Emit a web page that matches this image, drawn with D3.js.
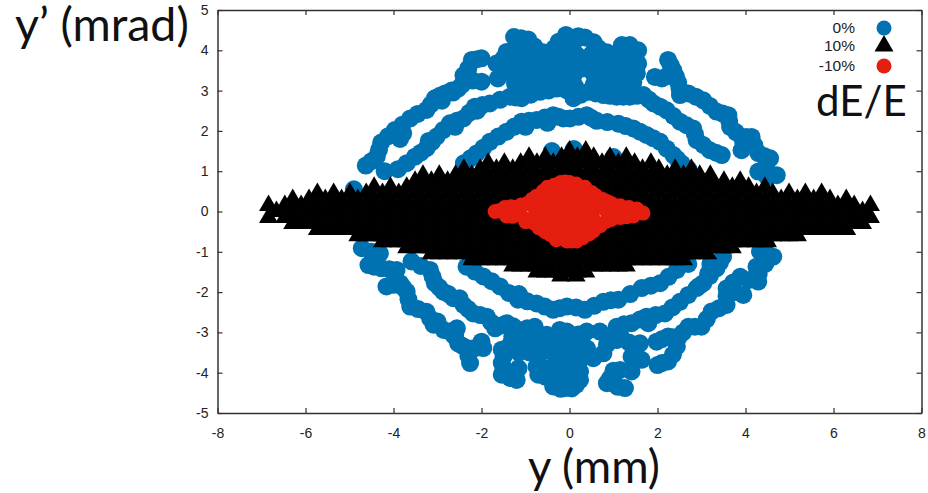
<!DOCTYPE html>
<html>
<head>
<meta charset="utf-8">
<script src="https://cdn.jsdelivr.net/npm/d3@7"></script>
<style>
  body { margin: 0; background: #fff; }
  .tick text { font-family: "Liberation Sans", sans-serif; font-size: 14px; fill: #222; }
  .bigText { font-family: Lato, sans-serif; fill: #111; }
  .legendText { font-family: "Liberation Sans", sans-serif; font-size: 15.5px; fill: #222; text-anchor: end; }
</style>
</head>
<body>
<div id="chart"></div>
<script>
/***********************************************************************/
//tick labels
const xTicks = [-8, -6, -4, -2, 0, 2, 4, 6, 8];
const yTicks = [-5, -4, -3, -2, -1, 0, 1, 2, 3, 4, 5];

//legend
const legendLabels = ["0%", "10%", "-10%"];

//dE/E = 0% : [y, y']
const blueOuter = [
  [-4.63,1.14],[-4.38,1.36],[-4.28,1.71],[-3.97,2.02],[-3.78,1.94],[-3.85,1.8],[-3.62,2.31],[-3.25,2.52],
  [-3.06,2.81],[-2.83,2.93],[-2.53,3.05],[-2.34,3.26],[-2.41,3.38],[-2.22,3.76],[-2,3.8],[-2,3.22],
  [-4.2,1],[-3.9,1.05],[-4.9,.55],
  [-4.5,1.25],[-4.33,1.53],[-4.12,1.87],[-3.8,2.15],[-3.45,2.42],[-3.15,2.66],[-2.95,2.87],[-2.68,3],[-2.44,3.15],
  [-2.3,3.55],[-2.1,3.78],[-2.2,3.25],[-2.65,2.95],[-2.9,2.75],
  [4.71,.9],[4.29,.99],[4.56,1.32],[4.29,1.45],[4.14,1.85],[3.91,1.85],[3.91,1.52],[3.65,2.1],[3.61,2.39],
  [3.34,2.48],[3.04,2.76],[2.7,2.93],[2.51,2.89],[2.47,3.2],[2.36,3.5],[2.24,3.76],[1.94,3.34],
  [4.42,1.38],[4.2,1.65],[4.02,1.85],[3.95,1.7],[3.78,1.97],[3.63,2.25],[3.48,2.43],[3.19,2.62],[2.87,2.85],[2.6,2.93],
  [2.42,3.35],[2.3,3.63],[2.2,3.35],[2.1,3.3],[2.5,3.05],[4.5,1],[4.5,.85],
  [-4.72,-.91],[-4.31,-1.04],[-4.57,-1.33],[-4.27,-1.41],[-3.93,-1.45],[-4.16,-1.86],[-3.85,-1.78],[-3.7,-1.99],
  [-3.62,-2.36],[-3.25,-2.49],[-3.09,-2.81],[-3,-2.73],[-2.72,-2.98],[-2.56,-2.9],[-2.53,-3.27],[-2.34,-3.39],
  [-1.96,-3.39],[-2.26,-3.76],[-2,-3.23],
  [-4.5,-1],[-4.44,-1.37],[-4.1,-1.43],[-4,-1.82],[-3.78,-1.88],[-3.66,-2.18],[-3.44,-2.42],[-3.17,-2.65],[-2.86,-2.94],
  [-2.63,-3.08],[-2.44,-3.33],[-2.15,-3.39],[-2.3,-3.58],[-2.6,-3.05],
  [4.63,-1.12],[4.33,-.99],[4.25,-1.37],[4.29,-1.74],[3.88,-1.62],[3.57,-1.91],[3.95,-2.07],[3.57,-2.32],
  [3.23,-2.48],[3,-2.86],[2.7,-2.86],[2.47,-3.14],[2.24,-3.1],[1.98,-3.23],[2.44,-3.35],[2.24,-3.72],[2,-3.81],
  [4.48,-1.05],[4.3,-1.55],[4.08,-1.7],[3.72,-1.76],[3.76,-2],[3.57,-2.1],[3.4,-2.4],[3.12,-2.67],[2.85,-2.86],
  [2.58,-3],[2.35,-3.12],[2.1,-3.17],[2.35,-3.55],[2.1,-3.76],[4.45,-1.3]
];
const blueMiddle = [
  [-3.7,1.2],[-3.51,1.36],[-3.25,1.57],[-3.02,1.86],[-2.72,2.19],[-2.41,2.31],[-2.15,2.6],[-1.81,2.68],
  [-1.35,2.85],[-1.09,2.81],[-.67,2.97],[-.29,3.05],
  [-3.38,1.46],[-3.13,1.72],[-2.87,2.02],[-2.56,2.25],[-2.28,2.45],[-1.98,2.64],[-1.58,2.77],[-1.22,2.83],[-.88,2.9],
  [-.48,3],[-3.2,1.75],[-2.6,2.1],[-2.1,2.5],
  [3.46,1.4],[3.19,1.52],[2.89,1.77],[2.81,2.06],[2.51,2.23],[2.21,2.51],[1.91,2.68],[1.68,2.89],[1.37,2.85],
  [1.07,2.85],[.77,2.89],[.43,2.97],[.09,2.81],
  [3.33,1.46],[3.04,1.65],[2.85,1.92],[2.66,2.14],[2.36,2.37],[2.06,2.6],[1.8,2.78],[1.53,2.87],[1.22,2.85],[.92,2.87],
  [.6,2.93],[.26,2.9],
  [-3.59,-1.24],[-3.17,-1.45],[-3.06,-1.78],[-2.87,-1.99],[-2.41,-2.32],[-2.19,-2.53],[-1.88,-2.61],[-1.69,-2.9],
  [-1.43,-2.77],[-1.13,-2.94],[-.79,-2.86],
  [-3.38,-1.35],[-3.11,-1.62],[-2.96,-1.88],[-2.64,-2.15],[-2.3,-2.42],[-2.03,-2.57],[-1.78,-2.75],[-1.56,-2.83],
  [-1.28,-2.85],[-.96,-2.9],[-2.75,-2.05],[-2.5,-2.15],
  [3.49,-1.12],[3.34,-1.41],[3.04,-1.78],[2.89,-1.9],[2.51,-2.24],[2.17,-2.53],[1.75,-2.61],[1.79,-2.77],
  [1.41,-2.77],[1.07,-2.86],
  [3.42,-1.26],[3.19,-1.6],[2.96,-1.84],[2.7,-2.07],[2.34,-2.38],[1.96,-2.57],[1.6,-2.68],[1.24,-2.8],[3.2,-1.3],[3.15,-1.55]
];
const blueInner = [
  [-2.4,1.2],[-2.11,1.44],[-1.81,1.73],[-1.43,1.98],[-1.09,2.23],[-.75,2.27],[-.37,2.39],[-.14,2.31],
  [-2.25,1.32],[-1.96,1.58],[-1.62,1.86],[-1.26,2.1],[-.92,2.25],[-.56,2.33],[-.25,2.35],[-1,2.1],[-.5,2.2],
  [-.4,1.5],[.1,1.55],[1,1.35],
  [2.55,1.19],[2.36,1.4],[2.06,1.73],[1.75,1.9],[1.45,2.06],[1.11,2.18],[.62,2.25],[.39,2.39],[.01,2.31],
  [2.45,1.3],[2.21,1.56],[1.9,1.82],[1.6,1.98],[1.28,2.12],[.86,2.22],[.5,2.32],[.2,2.35],[2.7,1.05],
  [-2.34,-1.37],[-1.96,-1.61],[-1.58,-1.86],[-1.17,-2.19],[-.75,-2.28],[-.37,-2.44],[-.06,-2.36],
  [-2.15,-1.49],[-1.77,-1.73],[-1.38,-2.02],[-.96,-2.23],[-.56,-2.36],[-.22,-2.4],[-1.15,-2.05],
  [2.44,-1.45],[2.06,-1.78],[1.64,-1.9],[1.11,-2.19],[.77,-2.24],[.35,-2.44],
  [2.25,-1.62],[1.85,-1.84],[1.38,-2.05],[.94,-2.2],[.56,-2.34],[.15,-2.38],[2.7,-1.3],[2.6,-1.25]
];
const blueTop = [
  [-1.66,3.67],[-1.63,3.3],[-1.35,3.55],[-1.13,3.38],[-1.26,4.33],[-.94,4.27],[-1.43,3.96],[-1.13,3.96],
  [-.82,3.84],[-.52,3.76],[-.75,3.51],[-.25,4.21],[-.08,4.38],[-.37,3.26],[-.14,3.76],[-1.24,3.18],[-.67,3.1],
  [-.94,3.18],[-.22,3.59],
  [-1.5,3.8],[-1.5,3.45],[-1.3,3.75],[-1,3.7],[-.9,3.5],[-1.1,4.3],[-1.05,4.1],[-.8,4.1],[-.6,3.95],[-.35,4],[-.5,3.5],
  [-.25,3.35],[-.85,3.3],[-.5,3.2],[-.2,3.15],[-.1,3.95],[-.35,4.05],[-.1,4.15],[-.05,3.25],[-.4,3.05],
  [.35,4.32],[.13,4.25],[.66,4.05],[1.19,4.13],[1.37,4.13],[1.56,4],[1.15,3.88],[1.56,3.67],[1.53,3.43],
  [.77,3.76],[.47,3.67],[-.07,4],[.01,3.63],[.92,3.47],[1.22,3.63],[.54,3.43],[.13,3.1],[.09,3.38],[1.26,3.18],
  [-.07,3.01],[.69,3.14],[.99,3.01],
  [.2,4.35],[.15,3.9],[.3,3.8],[.55,4.2],[.5,3.9],[.85,3.95],[.75,3.55],[.3,3.55],[.55,3.15],[.85,3.25],[1.05,3.2],
  [1.1,3.6],[1.35,3.85],[1.4,3.55],[1.3,3.35],[1.45,3.2],[1.15,4],[.95,3.75],[.95,3.05]
];
const blueBottom = [
  [-1.54,-3.43],[-1.54,-3.76],[-1.54,-4.05],[-1.2,-4.18],[-1.16,-3.89],[-.71,-4.05],[-.59,-3.89],[-.37,-4.34],
  [-.1,-4.38],[-1.12,-3.31],[-.82,-3.31],[-.59,-3.47],[-.52,-3.06],[-.22,-2.94],[-.37,-3.47],[-.1,-3.81],
  [-.14,-4.14],[-.14,-3.39],
  [-1.5,-3.6],[-1.5,-3.9],[-1.35,-4.13],[-1.35,-3.3],[-1.15,-3.5],[-.9,-3.5],[-.75,-3.2],[-.85,-3.1],[-.35,-3.15],
  [-.1,-3.15],[-.3,-3.7],[-.75,-3.85],[-.55,-4.1],[-.2,-4.4],[-.35,-3.95],[-1.3,-3.1],[-.95,-3.05],[-.15,-4.25],
  [-.06,-2.98],[.39,-2.98],[.69,-2.98],[1.07,-3.19],[1.6,-3.27],[1.41,-3.6],[1.64,-3.68],[.77,-3.52],[.54,-3.64],
  [1.15,-3.93],[1.41,-3.97],[.85,-4.26],[1.26,-4.38],[.92,-4.14],[.24,-3.97],[.24,-4.18],[.05,-4.39],[-.14,-4.05],
  [.09,-3.47],[-.06,-3.31],
  [.2,-3.05],[.2,-3.3],[.25,-3.55],[.1,-3.7],[.4,-3.4],[.85,-3.1],[.85,-3.3],[1.35,-3.25],[1.5,-3.65],[1,-3.95],
  [1.05,-4.3],[1.15,-3.05],[.2,-3.8],[.15,-4.3],[1.1,-4.35]
];

//dE/E = 10% : rows of y' with the y values of that row
const blackY = [1.5, 1.35, 1.2, 1.05, .9, .75, .6, .45, .3, .15, 0, -.15, -.3, -.45, -.6, -.75, -.9, -1.05, -1.2, -1.35, -1.5, -1.6];
const blackX = [
  [0,.37],
  [-.92,-.55,-.18,.18,.55,.92,1.29],
  [-1.85,-1.48,-1.11,-.74,-.37,0,.37,.74,1.11,1.48,1.85],
  [-2.4,-2.03,-1.66,-1.29,-.92,-.55,-.18,.18,.55,.92,1.29,1.66,2.03,2.4,2.77],
  [-3.33,-2.96,-2.59,-2.22,-1.85,-1.48,-1.11,-.74,-.37,0,.37,.74,1.11,1.48,1.85,2.22,2.59,2.96,3.2],
  [-3.51,-3.14,-2.77,-2.4,-2.03,-1.66,-1.29,-.92,-.55,-.18,.18,.55,.92,1.29,1.66,2.03,2.4,2.77,3.14,3.51,3.88],
  [-4.44,-4.07,-3.7,-3.33,-2.96,-2.59,-2.22,-1.85,-1.48,-1.11,-.74,.74,1.11,1.48,1.85,2.22,2.59,2.96,3.33,3.7,4.07,4.44],
  [-5.73,-5.36,-4.99,-4.62,-4.25,-3.88,-3.51,-3.14,-2.77,-2.4,-2.03,-1.66,-1.29,-.92,.92,1.29,1.66,2.03,2.4,2.77,3.14,3.51,3.88,4.25,4.62,4.99,5.36,5.73],
  [-6.29,-5.92,-5.55,-5.18,-4.81,-4.44,-4.07,-3.7,-3.33,-2.96,-2.59,-2.22,-1.85,-1.48,-1.11,1.11,1.48,1.85,2.22,2.59,2.96,3.33,3.7,4.07,4.44,4.81,5.18,5.55,5.92,6.29],
  [-6.84,-6.47,-6.1,-5.73,-5.36,-4.99,-4.62,-4.25,-3.88,-3.51,-3.14,-2.77,-2.4,-2.03,-1.66,-1.29,1.29,1.66,2.03,2.4,2.77,3.14,3.51,3.88,4.25,4.62,4.99,5.36,5.73,6.1,6.47,6.84],
  [-6.66,-6.29,-5.92,-5.55,-5.18,-4.81,-4.44,-4.07,-3.7,-3.33,-2.96,-2.59,-2.22,-1.85,1.85,2.22,2.59,2.96,3.33,3.7,4.07,4.44,4.81,5.18,5.55,5.92,6.29,6.66],
  [-6.84,-6.47,-6.1,-5.73,-5.36,-4.99,-4.62,-4.25,-3.88,-3.51,-3.14,-2.77,-2.4,-2.03,-1.66,-1.29,1.29,1.66,2.03,2.4,2.77,3.14,3.51,3.88,4.25,4.62,4.99,5.36,5.73,6.1,6.47,6.84],
  [-6.29,-5.92,-5.55,-5.18,-4.81,-4.44,-4.07,-3.7,-3.33,-2.96,-2.59,-2.22,-1.85,-1.48,-1.11,1.11,1.48,1.85,2.22,2.59,2.96,3.33,3.7,4.07,4.44,4.81,5.18,5.55,5.92,6.29,6.66],
  [-5.73,-5.36,-4.99,-4.62,-4.25,-3.88,-3.51,-3.14,-2.77,-2.4,-2.03,-1.66,-1.29,-.92,.92,1.29,1.66,2.03,2.4,2.77,3.14,3.51,3.88,4.25,4.62,4.99,5.36,5.73,6.1,6.3],
  [-4.81,-4.44,-4.07,-3.7,-3.33,-2.96,-2.59,-2.22,-1.85,-1.48,-1.11,-.74,.74,1.11,1.48,1.85,2.22,2.59,2.96,3.33,3.7,4.07,4.44,4.81,5.18],
  [-4.25,-3.88,-3.51,-3.14,-2.77,-2.4,-2.03,-1.66,-1.29,-.92,-.55,-.18,.18,.55,.92,1.29,1.66,2.03,2.4,2.77,3.14,3.51,3.88,4.25,4.5],
  [-3.7,-3.33,-2.96,-2.59,-2.22,-1.85,-1.48,-1.11,-.74,-.37,0,.37,.74,1.11,1.48,1.85,2.22,2.59,2.96,3.33,3.7],
  [-3.14,-2.77,-2.4,-2.03,-1.66,-1.29,-.92,-.55,-.18,.18,.55,.92,1.29,1.66,2.03,2.4,2.77,3.14],
  [-2.22,-1.85,-1.48,-1.11,-.74,-.37,0,.37,.74,1.11,1.48,1.85,2.22,2.59],
  [-1.29,-.92,-.55,-.18,.18,.55,.92,1.29],
  [-.74,-.37,0,.37],
  [-.2,.15]
];
//triangles along the lower edge of the black area
const blackEdge = [
  [-6.1,-.3],[-5.73,-.3],[6.47,-.3],
  [-5.55,-.45],[-5.18,-.45],[-4.81,-.45],[5.18,-.45],[5.55,-.45],[5.92,-.45],
  [-4.62,-.6],[-4.25,-.6],[4.62,-.6],[4.99,-.6],
  [-4.07,-.75],[-3.7,-.75],[3.7,-.75],[4.07,-.75],[4.44,-.75],
  [-3.51,-.9],[-3.14,-.9],[3.14,-.9],[3.51,-.9],
  [-2.96,-1.05],[-2.59,-1.05],[-2.22,-1.05],[2.59,-1.05],[2.96,-1.05],
  [-2.03,-1.2],[-1.66,-1.2],[-1.29,-1.2],[1.29,-1.2],[1.66,-1.2],[2.03,-1.2],[2.4,-1.2],
  [-1.11,-1.35],[-.74,-1.35],[.74,-1.35],[1.11,-1.35],
  [-.55,-1.5],[-.18,-1.5],[.18,-1.5]
];

//dE/E = -10%
const redPoints = [
  [-.2,.72],[0,.72],[.15,.68],[-.1,.73],
  [-.6,.5],[-.35,.5],[-.1,.5],[.15,.5],[.4,.5],[.6,.39],[-.5,.6],[-.35,.65],[.35,.6],[.5,.47],
  [-.9,.22],[-.65,.25],[-.4,.25],[-.15,.25],[.1,.25],[.35,.25],[.6,.25],[.85,.25],[1.15,.14],[-.85,.3],[-.75,.38],[.75,.3],[.95,.2],
  [-.3,.38],[0,.38],[.3,.38],[-.5,.15],[.5,.15],[-.8,.1],
  [-1.69,0],[-1.47,.1],[-1.2,.1],[-.97,.19],[-.7,.05],[-.45,.05],[-.2,.05],[.05,.05],[.3,.05],[.55,.05],[.8,.05],
  [1.05,.05],[1.3,.05],[1.53,.06],[1.67,-.04],[-1.33,.12],[-1.1,.16],[1.35,.1],[-1.6,.02],
  [-1.43,-.11],[-1.1,-.1],[-.95,-.2],[-.7,-.2],[-.45,-.2],[-.2,-.2],[.05,-.2],[.3,-.2],[.55,-.2],[.84,-.24],[1.45,-.11],
  [-1.3,-.12],[-1,-.25],[-.6,-.1],[.95,-.2],[1,-.08],[1.15,-.15],[1.3,-.13],[.7,-.35],
  [-.82,-.28],[-.7,-.4],[-.55,-.5],[-.6,-.45],[-.35,-.45],[-.1,-.45],[.15,-.45],[.4,-.45],[.54,-.48],[-.3,-.3],[0,-.33],[.3,-.33],
  [-.44,-.57],[-.3,-.7],[-.2,-.65],[-.06,-.73],[.05,-.73],[.16,-.73],[.3,-.65],[.45,-.55]
];
/***********************************************************************/
//static svg/chart variables
var svgWidth = 928;
var svgHeight = 493;

var margin = { top: 10, right: 6.5, bottom: 80, left: 217.5 };
var chartWidth = svgWidth - margin.left - margin.right;
var chartHeight = svgHeight - margin.top - margin.bottom;

const blue = "#0072b2";
const red = "#e51e10";
const frame = "#333";

var svg = d3.select("#chart").append("svg")
  .attr("width", svgWidth)
  .attr("height", svgHeight);

var chartGroup = svg.append("g")
  .attr("transform", `translate(${margin.left}, ${margin.top})`);

var xScale = d3.scaleLinear().domain([-8, 8]).range([0, chartWidth]);
var yScale = d3.scaleLinear().domain([-5, 5]).range([chartHeight, 0]);

/***********************************************************************/
//markers
var triangle = d3.symbol().type(d3.symbolTriangle).size(156);
var blackPoints = blackY.flatMap((y, i) => blackX[i].map(x => [x, y])).concat(blackEdge);
var bluePoints = blueOuter.concat(blueMiddle, blueInner, blueTop, blueBottom);

chartGroup.append("g").selectAll("circle")
  .data(bluePoints)
  .enter()
  .append("circle")
  .attr("cx", d => xScale(d[0]))
  .attr("cy", d => yScale(d[1]))
  .attr("r", 9)
  .attr("fill", blue);

chartGroup.append("g").selectAll("path")
  .data(blackPoints)
  .enter()
  .append("path")
  .attr("d", triangle)
  .attr("transform", d => `translate(${xScale(d[0])}, ${yScale(d[1])})`)
  .attr("fill", "#000");

chartGroup.append("g").selectAll("circle")
  .data(redPoints)
  .enter()
  .append("circle")
  .attr("cx", d => xScale(d[0]))
  .attr("cy", d => yScale(d[1]))
  .attr("r", 7.5)
  .attr("fill", red);

/***********************************************************************/
//axes, gnuplot style: ticks point inwards on all four sides
var plainLabel = d => String(d);
var axes = [
  d3.axisBottom(xScale).tickValues(xTicks).tickSizeInner(-5).tickSizeOuter(0).tickPadding(15).tickFormat(plainLabel),
  d3.axisLeft(yScale).tickValues(yTicks).tickSizeInner(-5).tickSizeOuter(0).tickPadding(9).tickFormat(plainLabel),
  d3.axisTop(xScale).tickValues(xTicks).tickSizeInner(-5).tickSizeOuter(0).tickFormat(""),
  d3.axisRight(yScale).tickValues(yTicks).tickSizeInner(-5).tickSizeOuter(0).tickFormat("")
];
var axisMoves = [`translate(0, ${chartHeight})`, "translate(0, 0)", "translate(0, 0)", `translate(${chartWidth}, 0)`];

axes.forEach((axis, i) => {
  var g = chartGroup.append("g").attr("transform", axisMoves[i]).call(axis);
  g.selectAll(".domain").attr("stroke", frame).attr("stroke-width", 1.5);
  g.selectAll("line").attr("stroke", frame).attr("stroke-width", 1.2);
});

/***********************************************************************/
//legend
var legendY = [28, 46, 66];
legendLabels.forEach((label, i) => {
  svg.append("text")
    .attr("class", "legendText")
    .attr("x", 855)
    .attr("y", legendY[i] + 5)
    .text(label);
});
svg.append("circle").attr("cx", 884).attr("cy", legendY[0]).attr("r", 7.5).attr("fill", blue);
svg.append("path").attr("d", triangle).attr("transform", `translate(884, ${legendY[1]})`).attr("fill", "#000");
svg.append("circle").attr("cx", 884).attr("cy", legendY[2]).attr("r", 7.5).attr("fill", red);

//big labels
svg.append("text").attr("class", "bigText").attr("font-size", 46.5).attr("x", 15).attr("y", 41).text("y’ (mrad)");
svg.append("text").attr("class", "bigText").attr("font-size", 45.5).attr("x", 528).attr("y", 483).text("y (mm)");
svg.append("text").attr("class", "bigText").attr("font-size", 42).attr("x", 816).attr("y", 116).text("dE/E");
</script>
</body>
</html>
